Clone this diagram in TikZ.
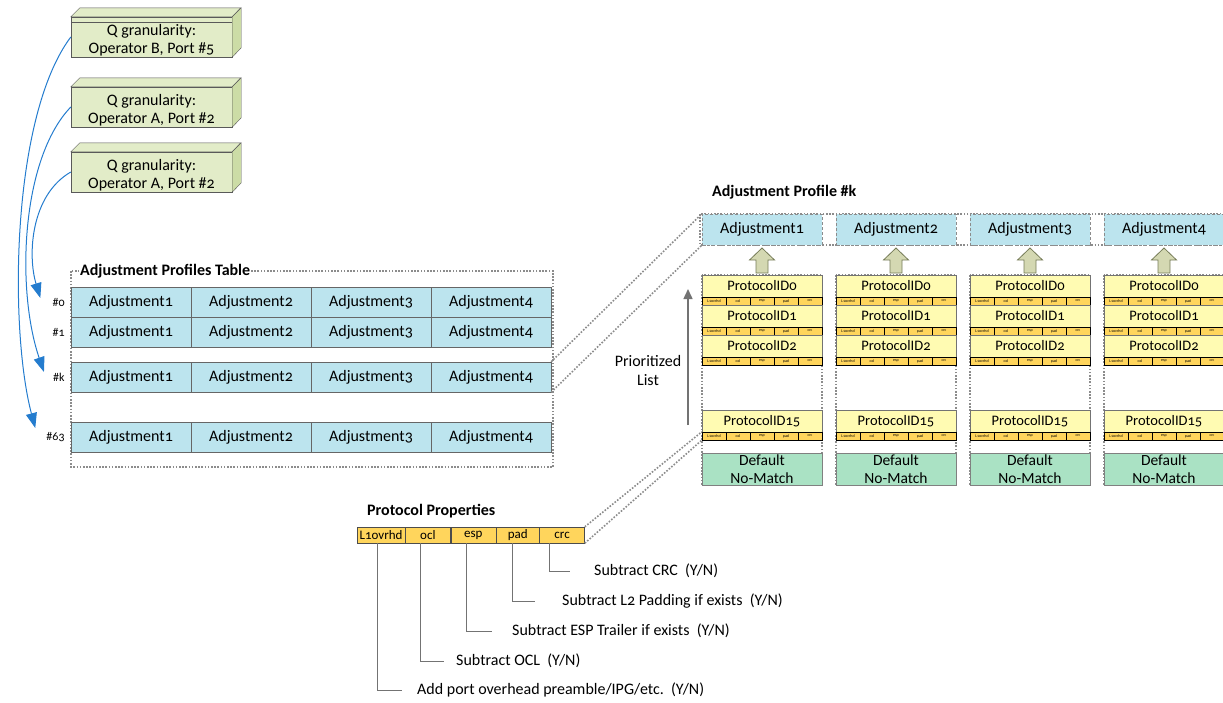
\documentclass[tikz,border=0pt]{standalone}
\usepackage{fontspec}
\setmainfont{Carlito}[Numbers=OldStyle]
\usepackage{xcolor}
\usetikzlibrary{arrows.meta, positioning, calc}
\definecolor{adjblue}{RGB}{188,228,238}
\definecolor{pidyellow}{RGB}{255,251,178}
\definecolor{stripgold}{RGB}{255,213,92}
\definecolor{defgreen}{RGB}{170,226,196}
\definecolor{qfront}{RGB}{226,236,200}
\definecolor{qside}{RGB}{204,220,166}
\definecolor{olivefill}{RGB}{212,216,178}
\definecolor{olivedraw}{RGB}{118,124,88}
\definecolor{linkblue}{RGB}{36,124,206}
\tikzset{
  qbox/.style={rectangle, draw=black!65, fill=qfront, minimum width=161pt,
               minimum height=40pt, align=center, inner sep=0pt,
               font=\fontsize{16}{18}\selectfont},
  adjcell/.style={rectangle, draw=black!60, fill=adjblue, minimum width=120pt,
                  minimum height=30pt, inner sep=0pt, font=\fontsize{16}{18}\selectfont},
  adjtop/.style={adjcell, draw=black!45, densely dashed, minimum height=31pt},
  rowlbl/.style={font=\fontsize{12}{14}\selectfont, inner sep=2pt},
  pidbox/.style={rectangle, draw=black!55, fill=pidyellow, minimum width=120pt,
                 minimum height=22pt, inner sep=0pt, font=\fontsize{14.5}{16}\selectfont},
  stripcell/.style={rectangle, draw=black, fill=stripgold, minimum width=24pt,
                    minimum height=8pt, inner sep=0pt, font=\fontsize{4}{4.5}\selectfont},
  defbox/.style={rectangle, draw=black!50, fill=defgreen, minimum width=120pt,
                 minimum height=32pt, align=center, inner sep=0pt,
                 font=\fontsize{15.5}{18}\selectfont},
  propcell/.style={rectangle, draw=black!70, fill=stripgold, minimum height=16pt,
                   inner sep=0pt, font=\fontsize{13}{14}\selectfont},
  uparrow/.style={draw=olivedraw, fill=olivefill, line width=0.8pt},
  frame/.style={draw=black!45, line width=1.6pt, dash pattern=on 1.6pt off 1.6pt},
  link/.style={frame},
  title/.style={font=\bfseries\fontsize{16}{18}\selectfont, inner sep=1pt},
  callout/.style={draw=black!55, thin},
  note/.style={font=\fontsize{16}{18}\selectfont, inner sep=0pt, anchor=west},
  qarrow/.style={-{Triangle[length=15pt,width=11pt]}, draw=linkblue, line width=1pt}
}

\begin{document}
\begin{tikzpicture}[x=1pt, y=-1pt]
  \useasboundingbox (0,0) rectangle (1223,702);

  % Q granularity boxes
  \foreach \n/\y/\op/\pt in {1/37/B/5, 2/107/A/2, 3/172/A/2}{
    \node[qbox] (qbox\n) at (151.5,\y) {\rule{0pt}{18pt}Q granularity:\\Operator \op, Port \#\pt};
    \draw[draw=black!65, fill=qfront] (qbox\n.north west) -- ++(9,-9) -- ++(161,0) -- (qbox\n.north east) -- cycle;
    \draw[draw=black!65, fill=qside] (qbox\n.north east) -- ++(9,-9) -- ++(0,40) -- (qbox\n.south east) -- cycle;
  }
  \draw[black!65] ([yshift=-5pt]qbox1.north west) -- ([yshift=-5pt]qbox1.north east);

  % adjustment profiles table
  \draw[frame] (71,271) rectangle (553,467);
  \node[title, anchor=west, fill=white] (tbltitle) at (79,271) {Adjustment Profiles Table};
  \foreach \r/\y in {0/302, 1/332, k/377, 63/437}{
    \foreach \c in {1,...,4}
      \node[adjcell] (cell\r-\c) at ({11+120*\c},\y) {Adjustment\c};
    \node[rowlbl, left=4pt of cell\r-1] (lbl\r) {\#\r};
  }

  \draw[qarrow] (qbox1.west) .. controls +(-60,80) and +(-26,-98) .. ([shift={(-9pt,9pt)}]lbl63.west);
  \draw[qarrow] (qbox2.west) .. controls +(-50,52) and +(-28,-82) .. ([shift={(-7pt,5pt)}]lblk.west);
  \draw[qarrow] (qbox3.west) .. controls +(-40,23) and +(-13,-43) .. ([shift={(-10pt,4pt)}]lbl0.west);

  % adjustment profile #k
  \node[title, anchor=west] (proftitle) at (711,192) {Adjustment Profile \#k};
  \draw[frame] (700,214) rectangle (1240,245);
  \foreach \c in {1,...,4}{
    \draw[frame] ({568+134*\c},275) rectangle ({688+134*\c},485);
    \node[adjtop] (adj\c) at ({628+134*\c},229.5) {Adjustment\c};
    \coordinate (upbase\c) at ({628+134*\c},273);
    \draw[uparrow] (upbase\c) ++(-6,0) -- ++(0,-13) -- ++(-6.5,0) -- ++(12.5,-12)
      -- ++(12.5,12) -- ++(-6.5,0) -- ++(0,13) -- cycle;
    \foreach \p/\y in {0/286, 1/316, 2/346, 15/421}{
      \node[pidbox] (pid\c-\p) at ({628+134*\c},\y) {ProtocolID\p};
      \foreach \s/\t in {1/L1ovrhd, 2/ocl, 3/esp, 4/pad, 5/crc}
        \node[stripcell] (strip\c-\p-\s) at ({556+134*\c+24*\s},{\y+15}) {\t};
    }
    \node[defbox] (def\c) at ({628+134*\c},469) {Default\\No-Match};
  }

  \coordinate (plbot) at (688,425);
  \coordinate (pltop) at (688,289);
  \draw[-{Triangle[length=10pt,width=9pt]}, draw=black!55, line width=1.5pt] (plbot) -- (pltop);
  \node[font=\fontsize{16}{19}\selectfont, align=center] (prio) at (648,370) {Prioritized\\List};

  % protocol properties
  \node[title, anchor=west] (proptitle) at (366,511) {Protocol Properties};
  \node[propcell, minimum width=48pt] (pl1) at (381,535) {L1ovrhd};
  \node[propcell, minimum width=45pt, right=0pt of pl1] (pocl) {ocl};
  \node[propcell, minimum width=45pt, right=0pt of pocl] (pesp) {esp};
  \node[propcell, minimum width=43pt, right=0pt of pesp] (ppad) {pad};
  \node[propcell, minimum width=45pt, right=0pt of ppad] (pcrc) {crc};

  \node[note] (noteadd) at (417,690) {Add port overhead preamble/IPG/etc.\ \ (Y/N)};
  \node[note] (noteocl) at (456,661) {Subtract OCL\ \ (Y/N)};
  \node[note] (noteesp) at (512,631) {Subtract ESP Trailer if exists\ \ (Y/N)};
  \node[note] (notepad) at (562,601) {Subtract L2 Padding if exists\ \ (Y/N)};
  \node[note] (notecrc) at (594,571) {Subtract CRC\ \ (Y/N)};
  \draw[callout] ([xshift=20pt]pl1.south west) |- ([xshift=-15pt]noteadd.west);
  \draw[callout] ([xshift=15pt]pocl.south west) |- ([xshift=-12pt]noteocl.west);
  \draw[callout] ([xshift=16pt]pesp.south west) |- ([xshift=-20pt]noteesp.west);
  \draw[callout] ([xshift=16pt]ppad.south west) |- ([xshift=-27pt]notepad.west);
  \draw[callout] ([xshift=10pt]pcrc.south west) |- ([xshift=-24pt]notecrc.west);

  % links between the views
  \draw[link] (cellk-4.north east) -- (adj1.north west);
  \draw[link] (cellk-4.south east) -- (adj1.south west);
  \draw[link] (pcrc.north east) -- (strip1-15-1.north west);
  \draw[link] (pcrc.south east) -- (strip1-15-1.south west);
\end{tikzpicture}
\end{document}
